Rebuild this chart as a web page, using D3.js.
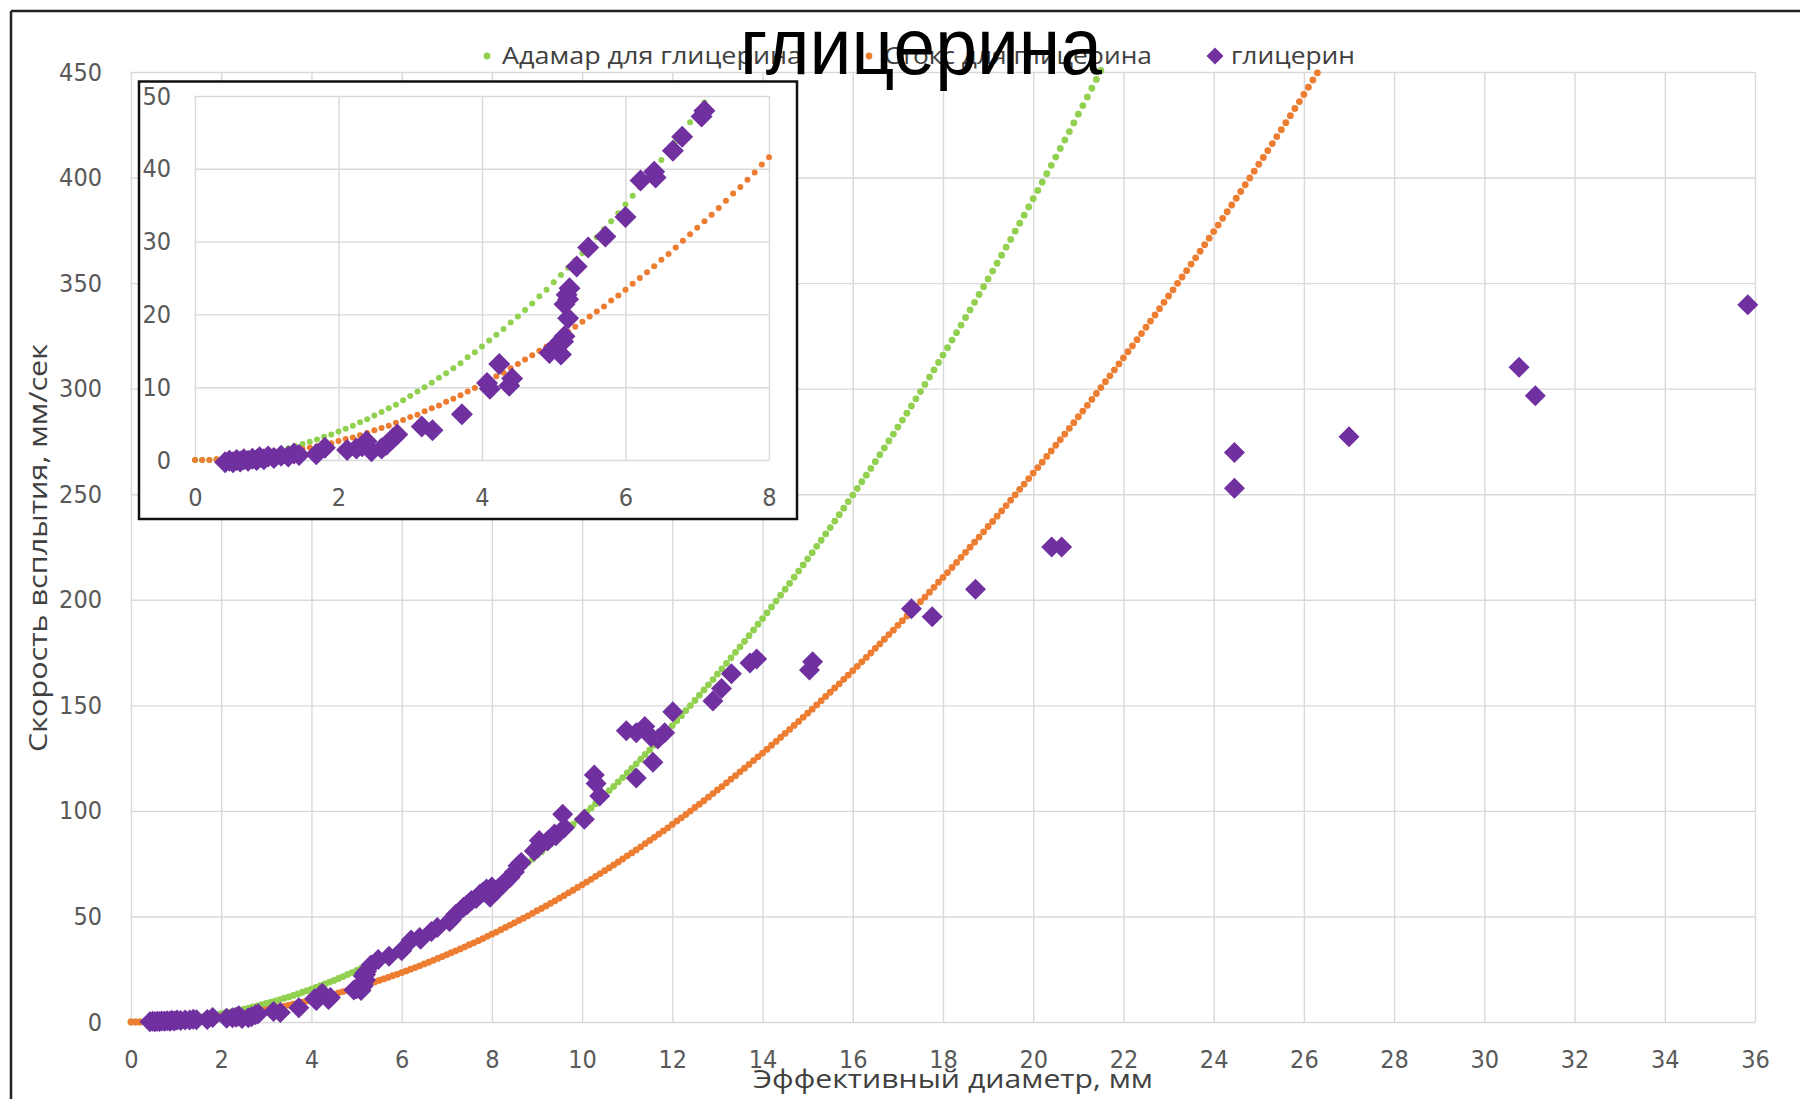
<!DOCTYPE html>
<html>
<head>
<meta charset="utf-8">
<script src="https://cdn.jsdelivr.net/npm/d3@7"></script>
<style>
  body { margin: 0; background: #fff; }
  .tick text { font-family: "Liberation Sans Narrow", "DejaVu Sans Condensed", sans-serif; fill: #595959; }
  .tick line { stroke: #d9d9d9; stroke-width: 1.4; }
  .lbl { font-family: "Open Sans", "Noto Sans", sans-serif; fill: #404040; }
</style>
</head>
<body>
<svg id="chart"></svg>
<script>
// diameter grid of the model curves, mm
var diam = [
  0,0.1,0.2,0.3,0.4,0.5,0.6,0.7,0.8,0.9,
  1,1.1,1.2,1.3,1.4,1.5,1.6,1.7,1.8,1.9,
  2,2.1,2.2,2.3,2.4,2.5,2.6,2.7,2.8,2.9,
  3,3.1,3.2,3.3,3.4,3.5,3.6,3.7,3.8,3.9,
  4,4.1,4.2,4.3,4.4,4.5,4.6,4.7,4.8,4.9,
  5,5.1,5.2,5.3,5.4,5.5,5.6,5.7,5.8,5.9,
  6,6.1,6.2,6.3,6.4,6.5,6.6,6.7,6.8,6.9,
  7,7.1,7.2,7.3,7.4,7.5,7.6,7.7,7.8,7.9,
  8,8.1,8.2,8.3,8.4,8.5,8.6,8.7,8.8,8.9,
  9,9.1,9.2,9.3,9.4,9.5,9.6,9.7,9.8,9.9,
  10,10.1,10.2,10.3,10.4,10.5,10.6,10.7,10.8,10.9,
  11,11.1,11.2,11.3,11.4,11.5,11.6,11.7,11.8,11.9,
  12,12.1,12.2,12.3,12.4,12.5,12.6,12.7,12.8,12.9,
  13,13.1,13.2,13.3,13.4,13.5,13.6,13.7,13.8,13.9,
  14,14.1,14.2,14.3,14.4,14.5,14.6,14.7,14.8,14.9,
  15,15.1,15.2,15.3,15.4,15.5,15.6,15.7,15.8,15.9,
  16,16.1,16.2,16.3,16.4,16.5,16.6,16.7,16.8,16.9,
  17,17.1,17.2,17.3,17.4,17.5,17.6,17.7,17.8,17.9,
  18,18.1,18.2,18.3,18.4,18.5,18.6,18.7,18.8,18.9,
  19,19.1,19.2,19.3,19.4,19.5,19.6,19.7,19.8,19.9,
  20,20.1,20.2,20.3,20.4,20.5,20.6,20.7,20.8,20.9,
  21,21.1,21.2,21.3,21.4,21.5,21.6,21.7,21.8,21.9,
  22,22.1,22.2,22.3,22.4,22.5,22.6,22.7,22.8,22.9,
  23,23.1,23.2,23.3,23.4,23.5,23.6,23.7,23.8,23.9,
  24,24.1,24.2,24.3,24.4,24.5,24.6,24.7,24.8,24.9,
  25,25.1,25.2,25.3,25.4,25.5,25.6,25.7,25.8,25.9,
  26,26.1,26.2,26.3
];

// "Адамар для глицерина", mm/s (one per diam, up to 21.5 mm)
var hadamardV = [
  0,0,0,0.1,0.2,0.2,0.4,0.5,0.6,0.8,
  1.0,1.2,1.4,1.6,1.9,2.2,2.5,2.8,3.2,3.5,
  3.9,4.3,4.7,5.2,5.6,6.1,6.6,7.1,7.6,8.2,
  8.8,9.4,10.0,10.6,11.3,11.9,12.6,13.3,14.1,14.8,
  15.6,16.4,17.2,18.0,18.9,19.7,20.6,21.5,22.5,23.4,
  24.4,25.4,26.4,27.4,28.4,29.5,30.6,31.7,32.8,33.9,
  35.1,36.3,37.5,38.7,39.9,41.2,42.5,43.8,45.1,46.4,
  47.8,49.1,50.5,52.0,53.4,54.8,56.3,57.8,59.3,60.9,
  62.4,64.0,65.6,67.2,68.8,70.4,72.1,73.8,75.5,77.2,
  79.0,80.7,82.5,84.3,86.2,88.0,89.9,91.7,93.6,95.6,
  97.5,99.5,101.4,103.4,105.5,107.5,109.6,111.6,113.7,115.8,
  118.0,120.1,122.3,124.5,126.7,128.9,131.2,133.5,135.8,138.1,
  140.4,142.7,145.1,147.5,149.9,152.3,154.8,157.3,159.7,162.2,
  164.8,167.3,169.9,172.5,175.1,177.7,180.3,183.0,185.7,188.4,
  191.1,193.8,196.6,199.4,202.2,205.0,207.8,210.7,213.6,216.5,
  219.4,222.3,225.3,228.2,231.2,234.2,237.3,240.3,243.4,246.5,
  249.6,252.7,255.9,259.0,262.2,265.4,268.7,271.9,275.2,278.5,
  281.8,285.1,288.4,291.8,295.2,298.6,302.0,305.5,308.9,312.4,
  315.9,319.4,323.0,326.5,330.1,333.7,337.3,340.9,344.6,348.3,
  352.0,355.7,359.4,363.2,367.0,370.7,374.6,378.4,382.2,386.1,
  390.0,393.9,397.8,401.8,405.8,409.7,413.8,417.8,421.8,425.9,
  430.0,434.1,438.2,442.3,446.5,450.7
];

// "Стокс для глицерина", mm/s (one per diam)
var stokesV = [
  0,0,0,0.1,0.1,0.2,0.2,0.3,0.4,0.5,
  0.7,0.8,0.9,1.1,1.3,1.5,1.7,1.9,2.1,2.3,
  2.6,2.9,3.1,3.4,3.7,4.1,4.4,4.7,5.1,5.5,
  5.9,6.2,6.7,7.1,7.5,8.0,8.4,8.9,9.4,9.9,
  10.4,10.9,11.5,12.0,12.6,13.2,13.8,14.4,15.0,15.6,
  16.3,16.9,17.6,18.3,19.0,19.7,20.4,21.1,21.9,22.6,
  23.4,24.2,25.0,25.8,26.6,27.5,28.3,29.2,30.1,31.0,
  31.9,32.8,33.7,34.6,35.6,36.6,37.5,38.5,39.5,40.6,
  41.6,42.6,43.7,44.8,45.9,47.0,48.1,49.2,50.3,51.5,
  52.7,53.8,55.0,56.2,57.4,58.7,59.9,61.2,62.4,63.7,
  65.0,66.3,67.6,69.0,70.3,71.7,73.0,74.4,75.8,77.2,
  78.7,80.1,81.5,83.0,84.5,86.0,87.5,89.0,90.5,92.0,
  93.6,95.2,96.7,98.3,99.9,101.6,103.2,104.8,106.5,108.2,
  109.9,111.5,113.3,115.0,116.7,118.5,120.2,122.0,123.8,125.6,
  127.4,129.2,131.1,132.9,134.8,136.7,138.6,140.5,142.4,144.3,
  146.3,148.2,150.2,152.2,154.2,156.2,158.2,160.2,162.3,164.3,
  166.4,168.5,170.6,172.7,174.8,177.0,179.1,181.3,183.5,185.6,
  187.9,190.1,192.3,194.5,196.8,199.1,201.3,203.6,205.9,208.3,
  210.6,212.9,215.3,217.7,220.1,222.5,224.9,227.3,229.7,232.2,
  234.7,237.1,239.6,242.1,244.6,247.2,249.7,252.3,254.8,257.4,
  260.0,262.6,265.2,267.9,270.5,273.2,275.8,278.5,281.2,283.9,
  286.7,289.4,292.1,294.9,297.7,300.5,303.3,306.1,308.9,311.7,
  314.6,317.5,320.3,323.2,326.1,329.1,332.0,334.9,337.9,340.9,
  343.9,346.8,349.9,352.9,355.9,359.0,362.0,365.1,368.2,371.3,
  374.4,377.5,380.7,383.8,387.0,390.2,393.4,396.6,399.8,403.0,
  406.3,409.5,412.8,416.1,419.4,422.7,426.0,429.3,432.7,436.0,
  439.4,442.8,446.2,449.6
];

// measured bubbles "глицерин"
var glycerinD = [
  0.42,0.48,0.53,0.58,0.63,0.68,0.74,0.8,0.86,0.9,0.96,1.02,1.1,1.2,1.3,1.38,1.45,
  1.69,1.81,2.12,2.25,2.33,2.39,2.46,2.6,2.67,2.76,2.82,3.16,3.31,3.72,
  4.07,4.11,4.24,4.38,4.42,4.94,5.0,5.06,5.1,5.13,5.15,5.2,5.15,5.18,5.2,5.22,
  5.32,5.48,5.72,6.0,6.21,6.4,6.42,6.66,6.79,7.06,7.1,7.2,7.37,7.45,7.55,7.65,
  7.74,7.8,7.88,7.96,8.0,8.1,8.15,8.25,8.3,8.4,8.5,8.58,8.65,8.94,9.02,9.05,
  9.24,9.39,9.42,9.57,9.61,10.05,10.27,10.31,10.39,10.98,11.2,11.2,11.39,11.53,
  11.57,11.68,11.83,12.01,12.9,13.09,13.31,13.72,13.87,15.04,15.11,17.3,17.76,
  18.72,20.41,20.63,24.46,24.46,27.0,30.77,31.13,35.84
];
var glycerinV = [
  0.1,0.3,0.1,0.4,0.2,0.5,0.3,0.6,0.4,0.8,0.5,0.9,0.7,1.0,0.9,1.3,1.1,
  1.2,2.1,1.8,2.0,2.3,3.0,1.6,2.0,2.5,3.4,3.9,5.0,4.5,6.7,
  11.0,10.2,13.6,10.6,11.6,15.1,15.8,16.3,14.9,16.7,17.4,19.9,21.8,23.1,22.5,24.0,
  27.0,29.6,31.1,33.8,38.8,40.0,39.2,42.9,44.8,47.6,48.4,51.0,54.3,55.5,57.5,58.5,
  60.6,61.5,63.0,59.1,64.0,62.2,63.5,65.4,66.5,68.5,71.0,74.0,75.5,81.0,82.7,86.0,
  85.8,89.0,88.2,98.4,92.0,96.0,117.0,113.0,107.0,138.0,137.0,115.6,140.0,135.0,
  123.0,134.0,137.0,147.0,152.0,158.0,165.0,170.0,172.0,166.7,170.6,195.7,192.0,
  205.0,225.0,225.0,269.8,252.8,277.2,310.1,296.7,339.7
];

var xTicks = [0,2,4,6,8,10,12,14,16,18,20,22,24,26,28,30,32,34,36];
var yTicks = [0,50,100,150,200,250,300,350,400,450];
var xTicksInset = [0,2,4,6,8];
var yTicksInset = [0,10,20,30,40,50];

var seriesNames = ["Адамар для глицерина", "Стокс для глицерина", "глицерин"];
var colors = ["#92d050", "#ed7d31", "#7030a0"];

var W = 1800, H = 1099;
var dotR = 3.4, dotRInset = 3, diaR = 10.5;

var svg = d3.select("#chart").attr("width", W).attr("height", H);

// rotated-square marker used by Excel for the measured series
function diamond(cx, cy, r) {
  return "M" + cx + "," + (cy - r) + "L" + (cx + r) + "," + cy + "L" + cx + "," + (cy + r) + "L" + (cx - r) + "," + cy + "Z";
}

var hadamard = hadamardV.map(function(v, i) { return { d: diam[i], v: v }; });
var stokes = stokesV.map(function(v, i) { return { d: diam[i], v: v }; });
var glycerin = glycerinD.map(function(d, i) { return { d: d, v: glycerinV[i] }; });

// ---------- main chart ----------
var x = d3.scaleLinear().domain([0, 36]).range([131, 1755]);
var y = d3.scaleLinear().domain([0, 450]).range([1022, 72]);

svg.append("g")
    .attr("transform", "translate(0," + y(0) + ")")
    .call(d3.axisBottom(x).tickValues(xTicks).tickSize(-(y(0) - y(450))).tickPadding(28))
    .call(function(g) { g.select(".domain").remove(); })
    .selectAll("text").style("font-size", "25px");

svg.append("g")
    .attr("transform", "translate(" + x(0) + ",0)")
    .call(d3.axisLeft(y).tickValues(yTicks).tickSize(-(x(36) - x(0))).tickPadding(29))
    .call(function(g) { g.select(".domain").remove(); })
    .selectAll("text").style("font-size", "25px");

svg.append("g").selectAll("circle")
    .data(hadamard)
    .enter().append("circle")
    .attr("cx", function(d) { return x(d.d); })
    .attr("cy", function(d) { return y(d.v); })
    .attr("r", dotR)
    .style("fill", colors[0]);

svg.append("g").selectAll("circle")
    .data(stokes)
    .enter().append("circle")
    .attr("cx", function(d) { return x(d.d); })
    .attr("cy", function(d) { return y(d.v); })
    .attr("r", dotR)
    .style("fill", colors[1]);

svg.append("g").selectAll("path")
    .data(glycerin)
    .enter().append("path")
    .attr("d", function(d) { return diamond(x(d.d), y(d.v), diaR); })
    .style("fill", colors[2]);

// ---------- inset ----------
var xi = d3.scaleLinear().domain([0, 8]).range([195, 769]);
var yi = d3.scaleLinear().domain([0, 50]).range([460, 96]);

var inset = svg.append("g");

inset.append("rect")
    .attr("x", 139).attr("y", 81.5)
    .attr("width", 658).attr("height", 437.5)
    .style("fill", "#fff");

inset.append("g")
    .attr("transform", "translate(0," + yi(0) + ")")
    .call(d3.axisBottom(xi).tickValues(xTicksInset).tickSize(-(yi(0) - yi(50))).tickPadding(28))
    .call(function(g) { g.select(".domain").remove(); })
    .selectAll("text").style("font-size", "25px");

inset.append("g")
    .attr("transform", "translate(" + xi(0) + ",0)")
    .call(d3.axisLeft(yi).tickValues(yTicksInset).tickSize(-(xi(8) - xi(0))).tickPadding(24))
    .call(function(g) { g.select(".domain").remove(); })
    .selectAll("text").style("font-size", "25px");

function inRange(p) { return p.d <= 8 && p.v <= 50; }

inset.append("g").selectAll("circle")
    .data(hadamard.filter(inRange))
    .enter().append("circle")
    .attr("cx", function(d) { return xi(d.d); })
    .attr("cy", function(d) { return yi(d.v); })
    .attr("r", dotRInset)
    .style("fill", colors[0]);

inset.append("g").selectAll("circle")
    .data(stokes.filter(inRange))
    .enter().append("circle")
    .attr("cx", function(d) { return xi(d.d); })
    .attr("cy", function(d) { return yi(d.v); })
    .attr("r", dotRInset)
    .style("fill", colors[1]);

inset.append("g").selectAll("path")
    .data(glycerin.filter(inRange))
    .enter().append("path")
    .attr("d", function(d) { return diamond(xi(d.d), yi(d.v) + 3, diaR + 0.5); })
    .style("fill", colors[2]);

inset.append("rect")
    .attr("x", 139).attr("y", 81.5)
    .attr("width", 658).attr("height", 437.5)
    .style("fill", "none")
    .style("stroke", "#111")
    .style("stroke-width", 2.5);

// ---------- legend ----------
var legendX = [487, 869, 1215];
var legendTextLen = [300, 268, 124];
var legend = svg.selectAll(".legend")
    .data(seriesNames)
    .enter().append("g")
    .attr("class", "legend")
    .attr("transform", function(d, i) { return "translate(" + legendX[i] + ",56)"; });

legend.each(function(d, i) {
  var g = d3.select(this);
  if (i < 2) {
    g.append("circle").attr("r", 3.4).style("fill", colors[i]);
  } else {
    g.append("path").attr("d", diamond(0, 0, 8.5)).style("fill", colors[i]);
  }
  g.append("text")
      .attr("class", "lbl")
      .attr("x", i < 2 ? 15 : 16)
      .attr("y", 8)
      .attr("textLength", legendTextLen[i])
      .attr("lengthAdjust", "spacingAndGlyphs")
      .style("font-size", "23px")
      .text(d);
});

// ---------- titles ----------
svg.append("text")
    .attr("x", 953)
    .attr("y", 1088)
    .attr("text-anchor", "middle")
    .attr("class", "lbl")
    .attr("textLength", 400)
    .attr("lengthAdjust", "spacingAndGlyphs")
    .style("font-size", "26px")
    .text("Эффективный диаметр, мм");

svg.append("text")
    .attr("transform", "translate(47,548) rotate(-90)")
    .attr("text-anchor", "middle")
    .attr("class", "lbl")
    .attr("textLength", 408)
    .attr("lengthAdjust", "spacingAndGlyphs")
    .style("font-size", "26px")
    .text("Скорость всплытия, мм/сек");

svg.append("text")
    .attr("x", 921)
    .attr("y", 74)
    .attr("text-anchor", "middle")
    .attr("textLength", 362)
    .attr("lengthAdjust", "spacingAndGlyphs")
    .style("font-family", "'Liberation Sans', Arial, sans-serif")
    .style("font-size", "80px")
    .style("fill", "#000")
    .text("глицерина");

// frame of the cropped screenshot (top and left edges only)
svg.append("line").attr("x1", 11).attr("y1", 11).attr("x2", W).attr("y2", 11)
    .style("stroke", "#222").style("stroke-width", 2.5);
svg.append("line").attr("x1", 11).attr("y1", 11).attr("x2", 11).attr("y2", H)
    .style("stroke", "#222").style("stroke-width", 2.5);
</script>
</body>
</html>
